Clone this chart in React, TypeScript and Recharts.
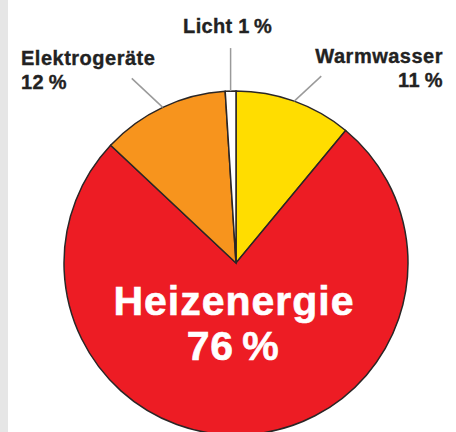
import React from "react";
import { PieChart, Pie, Cell } from "recharts";

const categories = ["Warmwasser", "Heizenergie", "Elektrogeräte", "Licht"];
const shares = [11, 76, 12, 1];
const colors = ["#ffdd00", "#ed1c24", "#f7941d", "#ffffff"];

const data = categories.map((name, i) => ({ name, value: shares[i] }));

const RAD = Math.PI / 180;
const FONT = "'Liberation Sans', Arial, sans-serif";
const W = 456;
const H = 432;

const renderLabel = (props: any) => {
  const { cx, cy, midAngle, outerRadius, index, name, value } = props;
  const pct = `${value}\u2009%`;
  const sin = Math.sin(-midAngle * RAD);
  const cos = Math.cos(-midAngle * RAD);
  if (value === Math.max(...shares)) {
    return (
      <g key={`l-${index}`}>
        <text x={cx - 2} y={cy + 52} textAnchor="middle" fill="#ffffff" stroke="#ffffff" strokeWidth={0.6} fontFamily={FONT} fontWeight={700} fontSize={41} letterSpacing={1}>
          {name}
        </text>
        <text x={cx - 3} y={cy + 97} textAnchor="middle" fill="#ffffff" stroke="#ffffff" strokeWidth={0.6} fontFamily={FONT} fontWeight={700} fontSize={41} letterSpacing={0.5}>
          {pct}
        </text>
      </g>
    );
  }
  const x0 = cx + outerRadius * cos;
  const y0 = cy + outerRadius * sin;
  if (Math.abs(x0 - cx) < 20) {
    const y1 = y0 - 43;
    return (
      <g key={`l-${index}`}>
        <line x1={x0} y1={y0} x2={x0} y2={y1} stroke="#9a9a9a" strokeWidth={1.5} />
        <text x={x0 - 3} y={y1 - 15} textAnchor="middle" fill="#222" stroke="#222" strokeWidth={0.35} fontFamily={FONT} fontWeight={700} fontSize={20} letterSpacing={0.3}>
          {`${name} ${pct}`}
        </text>
      </g>
    );
  }
  const left = x0 < cx;
  const x1 = left ? x0 - 31 : x0 + 27;
  const y1 = left ? y0 - 29 : y0 - 25;
  const tx = left ? 21 : W - 13;
  const anchor = left ? "start" : "end";
  return (
    <g key={`l-${index}`}>
      <line x1={x0} y1={y0} x2={x1} y2={y1} stroke="#9a9a9a" strokeWidth={1.5} />
      <text x={tx} y={y1 - 13} textAnchor={anchor} fill="#222" stroke="#222" strokeWidth={0.35} fontFamily={FONT} fontWeight={700} fontSize={20} letterSpacing={0.5}>
        {name}
      </text>
      <text x={tx} y={y1 + 11} textAnchor={anchor} fill="#222" stroke="#222" strokeWidth={0.35} fontFamily={FONT} fontWeight={700} fontSize={20} letterSpacing={0.5}>
        {pct}
      </text>
    </g>
  );
};

export default function App() {
  return (
    <div style={{ position: "absolute", left: 0, top: 0, width: W, height: H, background: "#ffffff", overflow: "hidden" }}>
      <div style={{ position: "absolute", left: 0, top: 0, width: 8, height: H, background: "#e6e6e6" }} />
      <div style={{ position: "absolute", left: 0, top: 0 }}>
        <PieChart width={W} height={H} margin={{ top: 0, right: 0, bottom: 0, left: 0 }}>
          <Pie
            data={data}
            dataKey="value"
            nameKey="name"
            cx={236}
            cy={263}
            outerRadius={172}
            innerRadius={0}
            startAngle={90}
            endAngle={-270}
            stroke="#2a2626"
            strokeWidth={1.5}
            labelLine={false}
            label={renderLabel}
            isAnimationActive={false}
          >
            {data.map((d, i) => (
              <Cell key={d.name} fill={colors[i]} />
            ))}
          </Pie>
        </PieChart>
      </div>
    </div>
  );
}
